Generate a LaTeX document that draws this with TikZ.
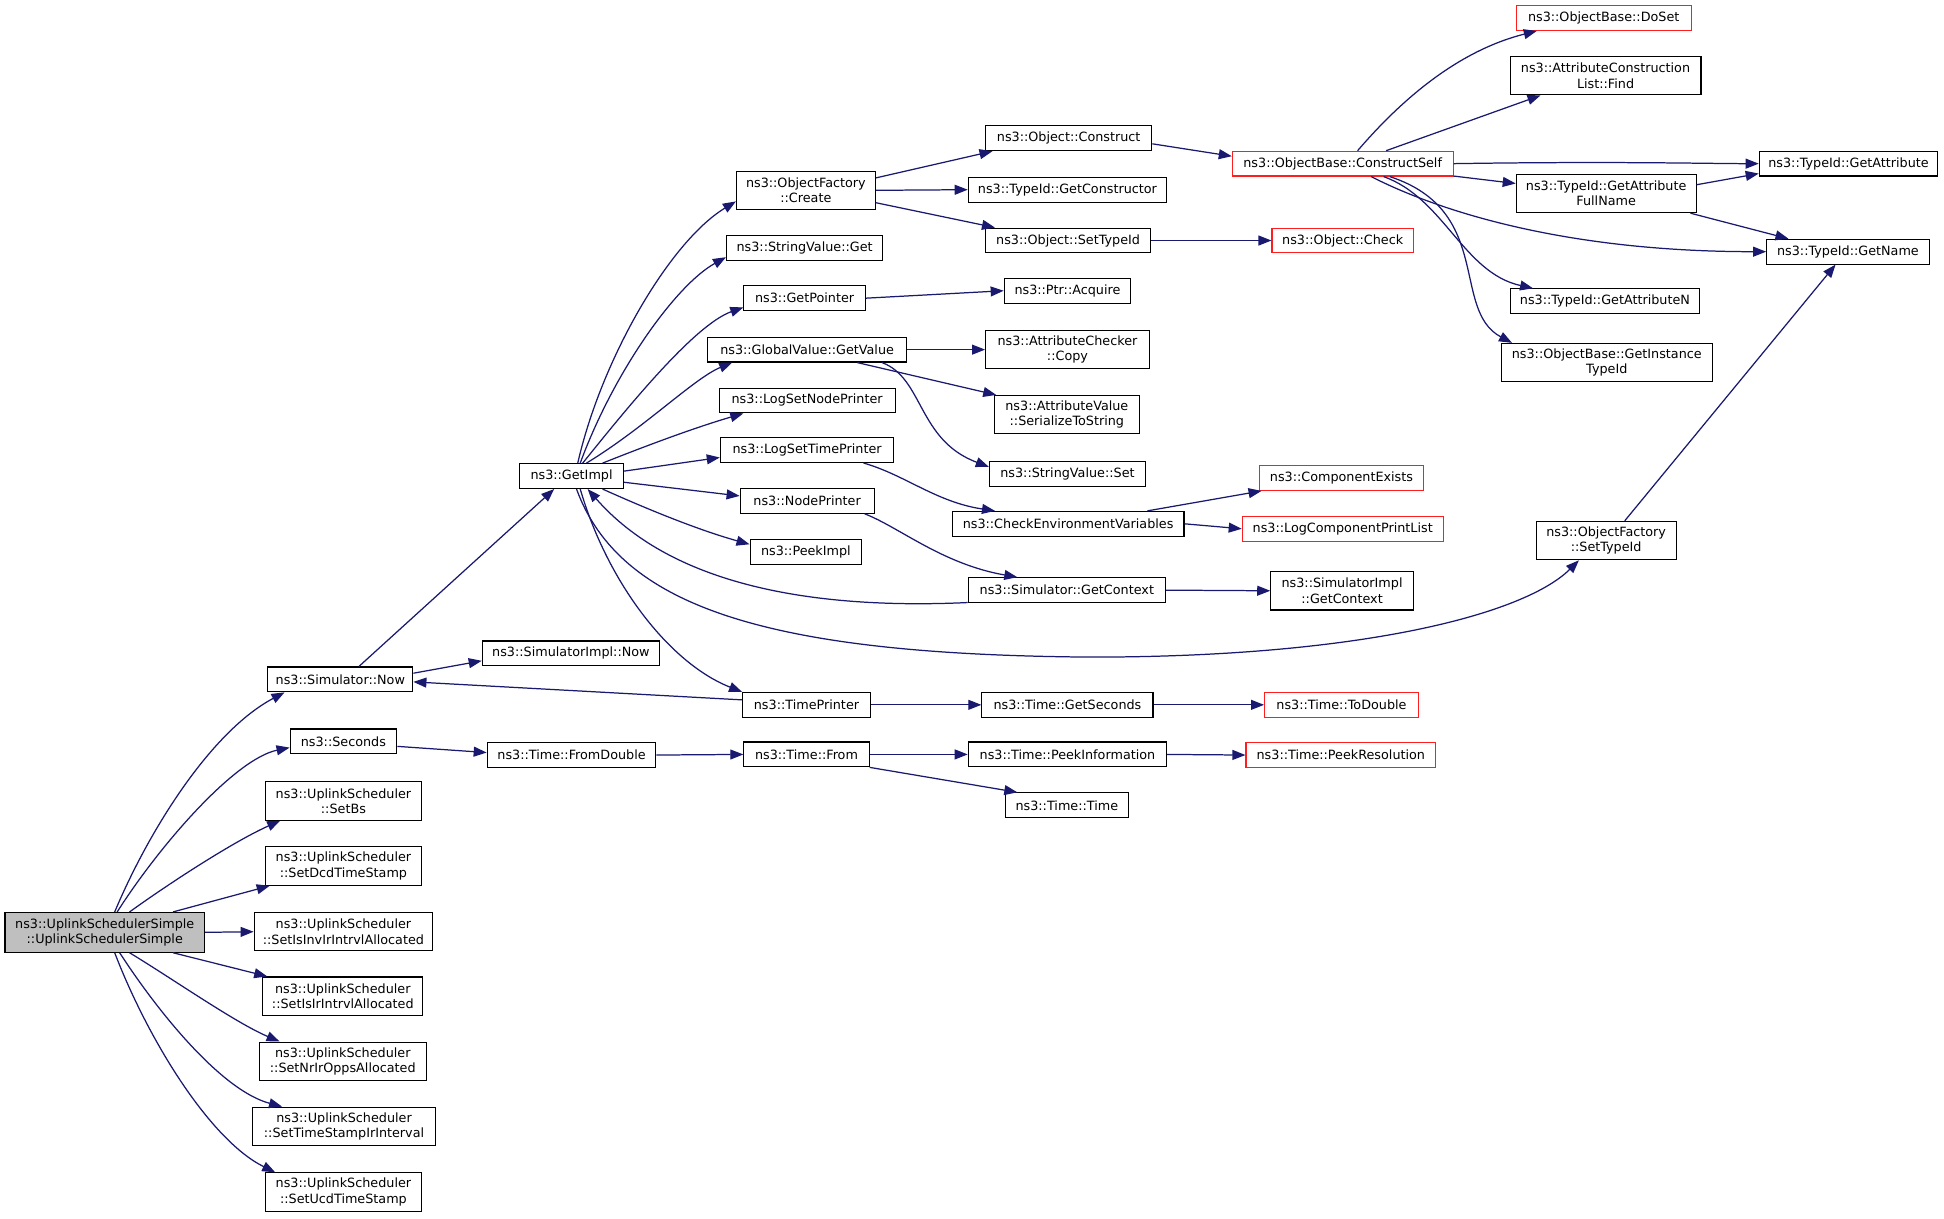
\documentclass[tikz,border=0pt]{standalone}
\usepackage{fontspec}
\setmainfont{DejaVu Sans}
\usetikzlibrary{arrows.meta}
\definecolor{edgeblue}{RGB}{25,25,112}
\definecolor{maingray}{RGB}{191,191,191}
\definecolor{boxred}{RGB}{255,30,30}
\begin{document}
\begin{tikzpicture}[x=1pt,y=-1pt,
 box/.style={draw=black, line width=0.9pt, inner sep=0pt, align=center, font=\fontsize{10.3}{12.3}\selectfont, fill=white},
 redbox/.style={box, draw=boxred},
 edge/.style={draw=edgeblue, line width=1pt, -{Triangle[length=10.5pt,width=8pt]}},
]
\useasboundingbox (0,0) rectangle (1568,983);
\fill[white] (0,0) rectangle (1568,983);

% left column
\node[box, fill=maingray, minimum width=161, minimum height=32] (main) at (84.5,752) {ns3::UplinkSchedulerSimple\\::UplinkSchedulerSimple};
\node[box, minimum width=117, minimum height=20] (now) at (274.5,548) {ns3::Simulator::Now};
\node[box, minimum width=86, minimum height=20] (seconds) at (277,598) {ns3::Seconds};
\node[box, minimum width=126, minimum height=31] (setbs) at (277,646) {ns3::UplinkScheduler\\::SetBs};
\node[box, minimum width=126, minimum height=31] (setdcd) at (277,698.5) {ns3::UplinkScheduler\\::SetDcdTimeStamp};
\node[box, minimum width=144, minimum height=31] (setisinv) at (277,751.5) {ns3::UplinkScheduler\\::SetIsInvIrIntrvlAllocated};
\node[box, minimum width=129, minimum height=31] (setisir) at (276.5,803.5) {ns3::UplinkScheduler\\::SetIsIrIntrvlAllocated};
\node[box, minimum width=135, minimum height=31] (setnrir) at (276.5,856) {ns3::UplinkScheduler\\::SetNrIrOppsAllocated};
\node[box, minimum width=147, minimum height=31] (settimestamp) at (277.5,908.5) {ns3::UplinkScheduler\\::SetTimeStampIrInterval};
\node[box, minimum width=126, minimum height=31] (setucd) at (277,961.5) {ns3::UplinkScheduler\\::SetUcdTimeStamp};

% second column
\node[box, minimum width=143, minimum height=20] (simimplnow) at (460.5,527) {ns3::SimulatorImpl::Now};
\node[box, minimum width=136, minimum height=20] (fromdouble) at (461,609) {ns3::Time::FromDouble};
\node[box, minimum width=84, minimum height=20] (getimpl) at (461,384) {ns3::GetImpl};

% third column
\node[box, minimum width=112, minimum height=31] (create) at (650,153.5) {ns3::ObjectFactory\\::Create};
\node[box, minimum width=126, minimum height=20] (svget) at (649,200) {ns3::StringValue::Get};
\node[box, minimum width=98, minimum height=20] (getpointer) at (649,240.5) {ns3::GetPointer};
\node[box, minimum width=160, minimum height=20] (getvalue) at (651,282) {ns3::GlobalValue::GetValue};
\node[box, minimum width=142, minimum height=20] (logsetnode) at (651,323) {ns3::LogSetNodePrinter};
\node[box, minimum width=140, minimum height=20] (logsettime) at (651,363) {ns3::LogSetTimePrinter};
\node[box, minimum width=108, minimum height=20] (nodeprinter) at (651,404) {ns3::NodePrinter};
\node[box, minimum width=90, minimum height=20] (peekimpl) at (650,445) {ns3::PeekImpl};
\node[box, minimum width=103, minimum height=20] (timeprinter) at (650.5,568.5) {ns3::TimePrinter};
\node[box, minimum width=101, minimum height=20] (timefrom) at (650.5,608.5) {ns3::Time::From};

% fourth column
\node[box, minimum width=134, minimum height=20] (construct) at (862,111.5) {ns3::Object::Construct};
\node[box, minimum width=160, minimum height=20] (getconstructor) at (861,153) {ns3::TypeId::GetConstructor};
\node[box, minimum width=133, minimum height=20] (objsettypeid) at (861.5,194) {ns3::Object::SetTypeId};
\node[box, minimum width=102, minimum height=20] (acquire) at (861,234.5) {ns3::Ptr::Acquire};
\node[box, minimum width=132, minimum height=31] (checkercopy) at (861,282) {ns3::AttributeChecker\\::Copy};
\node[box, minimum width=117, minimum height=31] (serialize) at (860.5,334.5) {ns3::AttributeValue\\::SerializeToString};
\node[box, minimum width=126, minimum height=20] (svset) at (861,382.5) {ns3::StringValue::Set};
\node[box, minimum width=187, minimum height=20] (checkenv) at (861.5,422.5) {ns3::CheckEnvironmentVariables};
\node[box, minimum width=159, minimum height=20] (simgetctx) at (860.5,476) {ns3::Simulator::GetContext};
\node[box, minimum width=138, minimum height=20] (getseconds) at (861,568.5) {ns3::Time::GetSeconds};
\node[box, minimum width=160, minimum height=20] (peekinfo) at (861,608.5) {ns3::Time::PeekInformation};
\node[box, minimum width=99, minimum height=20] (timetime) at (860.5,649.5) {ns3::Time::Time};

% fifth column
\node[redbox, minimum width=178, minimum height=20] (constructself) at (1083,132) {ns3::ObjectBase::ConstructSelf};
\node[redbox, minimum width=114, minimum height=20] (check) at (1083,194) {ns3::Object::Check};
\node[redbox, minimum width=132, minimum height=20] (compexists) at (1082,385.5) {ns3::ComponentExists};
\node[redbox, minimum width=162, minimum height=20] (logcomp) at (1083,426.5) {ns3::LogComponentPrintList};
\node[box, minimum width=115, minimum height=31] (implgetctx) at (1082.5,476.5) {ns3::SimulatorImpl\\::GetContext};
\node[redbox, minimum width=124, minimum height=20] (todouble) at (1082,568.5) {ns3::Time::ToDouble};
\node[redbox, minimum width=153, minimum height=20] (peekres) at (1081.5,609) {ns3::Time::PeekResolution};

% sixth column
\node[redbox, minimum width=141, minimum height=20] (doset) at (1293.5,14.5) {ns3::ObjectBase::DoSet};
\node[box, minimum width=154, minimum height=31] (find) at (1295,61) {ns3::AttributeConstruction\\List::Find};
\node[box, minimum width=145, minimum height=31] (fullname) at (1295.5,156) {ns3::TypeId::GetAttribute\\FullName};
\node[box, minimum width=153, minimum height=20] (getattrn) at (1294.5,243) {ns3::TypeId::GetAttributeN};
\node[box, minimum width=170, minimum height=31] (instancetypeid) at (1296,292.5) {ns3::ObjectBase::GetInstance\\TypeId};
\node[box, minimum width=113, minimum height=31] (ofsettypeid) at (1295.5,436) {ns3::ObjectFactory\\::SetTypeId};

% seventh column
\node[box, minimum width=144, minimum height=20] (getattr) at (1491,132) {ns3::TypeId::GetAttribute};
\node[box, minimum width=131, minimum height=20] (getname) at (1490.5,203) {ns3::TypeId::GetName};

% edges from main
\draw[edge] ([xshift=8]main.north) .. controls (120,670) and (170,590) .. ([xshift=-45]now.south);
\draw[edge] ([xshift=10]main.north) .. controls (130,680) and (190,612) .. ([yshift=-5]seconds.west);
\draw[edge] ([xshift=20]main.north) .. controls (140,710) and (190,678) .. ([xshift=-51]setbs.south);
\draw[edge] ([xshift=55]main.north) -- ([xshift=4]setdcd.south west);
\draw[edge] (main.east) -- (setisinv.west);
\draw[edge] ([xshift=55]main.south) -- ([xshift=4]setisir.north west);
\draw[edge] ([xshift=20]main.south) .. controls (140,790) and (190,825) .. ([xshift=-51]setnrir.north);
\draw[edge] ([xshift=12]main.south) .. controls (130,820) and (180,880) .. ([xshift=-50]settimestamp.north);
\draw[edge] ([xshift=8]main.south) .. controls (120,840) and (170,920) .. ([xshift=-55]setucd.north);

% simulator now / time chain
\draw[edge] ([xshift=15]now.north) -- ([xshift=-14]getimpl.south);
\draw[edge] ([yshift=5]now.east) -- ([yshift=-6]simimplnow.west);
\draw[edge] ([yshift=4]timeprinter.west) -- ([yshift=-2]now.east);
\draw[edge] ([yshift=-4]seconds.east) -- ([yshift=2]fromdouble.west);
\draw[edge] (fromdouble.east) -- (timefrom.west);
\draw[edge] (timefrom.east) -- (peekinfo.west);
\draw[edge] (timefrom.south east) -- ([xshift=10]timetime.north west);
\draw[edge] (peekinfo.east) -- (peekres.west);
\draw[edge] (timeprinter.east) -- (getseconds.west);
\draw[edge] (getseconds.east) -- (todouble.west);

% GetImpl fan
\draw[edge] ([xshift=5]getimpl.north) .. controls (485,290) and (540,195) .. ([yshift=7]create.south west);
\draw[edge] ([xshift=7]getimpl.north) .. controls (495,300) and (545,230) .. ([yshift=3]svget.south west);
\draw[edge] ([xshift=9]getimpl.north) .. controls (505,330) and (560,262) .. ([yshift=3]getpointer.south west);
\draw[edge] ([xshift=12]getimpl.north) .. controls (520,345) and (560,305) .. ([xshift=20]getvalue.south west);
\draw[edge] ([xshift=25]getimpl.north) .. controls (520,360) and (560,345) .. ([xshift=20]logsetnode.south west);
\draw[edge] ([yshift=4]getimpl.east) -- ([yshift=-6]logsettime.west);
\draw[edge] ([yshift=-5]getimpl.east) -- ([yshift=4]nodeprinter.west);
\draw[edge] ([xshift=25]getimpl.south) .. controls (525,412) and (565,428) .. ([yshift=6]peekimpl.west);
\draw[edge] ([xshift=7]getimpl.south) .. controls (490,470) and (540,535) .. (timeprinter.north west);
\draw[edge] ([xshift=4]getimpl.south) .. controls (500,490) and (620,528) .. (880,530) .. controls (1100,530) and (1230,495) .. ([xshift=-22]ofsettypeid.south);
\draw[edge] ([yshift=-10]simgetctx.west) .. controls (650,492) and (540,470) .. ([xshift=13]getimpl.south);

% third column outgoing
\draw[edge] ([yshift=10]create.east) -- ([xshift=6]construct.south west);
\draw[edge] (create.east) -- (getconstructor.west);
\draw[edge] ([yshift=-10]create.east) -- ([xshift=8]objsettypeid.north west);
\draw[edge] (getpointer.east) -- (acquire.west);
\draw[edge] (getvalue.east) -- (checkercopy.west);
\draw[edge] ([xshift=-40]getvalue.south east) -- ([xshift=2]serialize.north west);
\draw[edge] ([xshift=-20]getvalue.south east) .. controls (745,305) and (740,355) .. ([yshift=6]svset.west);
\draw[edge] ([xshift=-25]logsettime.south east) .. controls (730,383) and (755,405) .. ([xshift=35]checkenv.north west);
\draw[edge] ([xshift=-8]nodeprinter.south east) .. controls (725,425) and (760,455) .. ([xshift=40]simgetctx.north west);

% fourth column outgoing
\draw[edge] (objsettypeid.east) -- (check.west);
\draw[edge] ([yshift=-4.5]construct.east) -- ([yshift=6]constructself.west);
\draw[edge] ([xshift=-30]checkenv.north east) -- ([xshift=2]compexists.south west);
\draw[edge] (checkenv.east) -- (logcomp.west);
\draw[edge] (simgetctx.east) -- (implgetctx.west);

% ConstructSelf fan
\draw[edge] ([xshift=12]constructself.north) .. controls (1135,75) and (1180,40) .. ([xshift=17]doset.south west);
\draw[edge] ([xshift=35]constructself.north) -- ([xshift=25]find.south west);
\draw[edge] (constructself.east) .. controls (1300,130) and (1380,132) .. (getattr.west);
\draw[edge] ([yshift=-10]constructself.east) -- ([yshift=8]fullname.west);
\draw[edge] ([xshift=23]constructself.south) .. controls (1150,165) and (1250,203) .. (getname.west);
\draw[edge] ([xshift=33]constructself.south) .. controls (1165,160) and (1180,220) .. ([xshift=19]getattrn.north west);
\draw[edge] ([xshift=38]constructself.south) .. controls (1205,170) and (1170,250) .. ([xshift=9]instancetypeid.north west);

% sixth column outgoing
\draw[edge] ([yshift=7]fullname.east) -- ([yshift=-8]getattr.west);
\draw[edge] ([xshift=-5]fullname.south east) -- ([xshift=18]getname.north west);
\draw[edge] ([xshift=15]ofsettypeid.north) -- ([xshift=-10]getname.south);
\end{tikzpicture}
\end{document}
